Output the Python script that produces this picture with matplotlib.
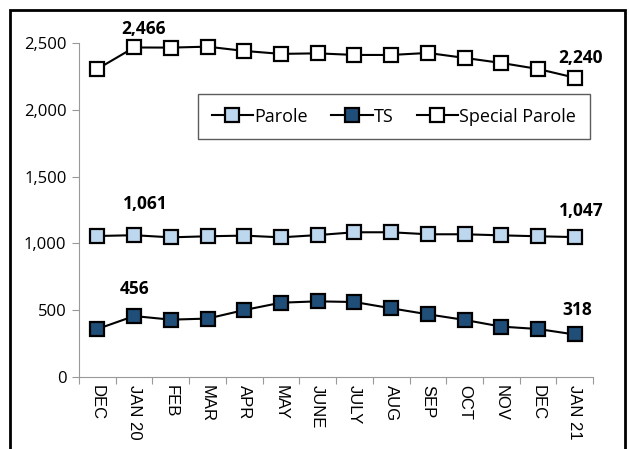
import matplotlib.pyplot as plt
from matplotlib.patches import Rectangle

# data
months = ["DEC", "JAN 20", "FEB", "MAR", "APR", "MAY", "JUNE", "JULY",
          "AUG", "SEP", "OCT", "NOV", "DEC", "JAN 21"]
parole = [1055, 1061, 1045, 1053, 1058, 1045, 1062, 1083, 1083, 1068, 1068, 1060, 1053, 1047]
ts = [359, 456, 429, 437, 501, 556, 566, 561, 514, 469, 427, 377, 359, 318]
special = [2305, 2466, 2465, 2472, 2440, 2418, 2422, 2410, 2410, 2425, 2388, 2350, 2305, 2240]

plt.rcParams['font.family'] = ['Open Sans', 'DejaVu Sans']

fig = plt.figure(figsize=(6.29, 4.49), dpi=100)
ax = fig.add_axes([0.1256, 0.1604, 0.8174, 0.7440])

x = list(range(len(months)))
style = dict(marker='s', markersize=9.5, markeredgecolor='black', markeredgewidth=1.6,
             color='black', linewidth=1.5, clip_on=False)
ax.plot(x, parole, markerfacecolor='#BDD7EE', label='Parole', **style)
ax.plot(x, ts, markerfacecolor='#1F4E79', label='TS', **style)
ax.plot(x, special, markerfacecolor='white', label='Special Parole', **style)

ax.set_xlim(-0.5, len(months) - 0.5)
ax.set_ylim(0, 2500)
ax.set_yticks([0, 500, 1000, 1500, 2000, 2500])
ax.yaxis.set_major_formatter(plt.FuncFormatter(lambda v, p: f"{int(v):,}"))
ax.set_xticks([i + 0.5 for i in range(-1, len(months))], minor=False)
ax.set_xticklabels([])
ax.set_xticks(x, minor=True)
ax.set_xticklabels(months, minor=True, rotation=270, fontsize=12,
                   family='Liberation Sans')
ax.tick_params(axis='x', which='minor', length=0, pad=6)
ax.tick_params(axis='x', which='major', length=5, color='#999999')
ax.tick_params(axis='y', length=5, color='#999999', labelsize=12, pad=4)

for side in ['top', 'right']:
    ax.spines[side].set_visible(False)
for side in ['left', 'bottom']:
    ax.spines[side].set_color('#999999')

# data labels
lab = dict(fontsize=12.5, fontweight='bold', ha='center', va='bottom')
ax.annotate(f"{special[1]:,}", (1, special[1]), xytext=(7, 7), textcoords='offset points', **lab)
ax.annotate(f"{special[-1]:,}", (13, special[-1]), xytext=(4, 8), textcoords='offset points', **lab)
ax.annotate(f"{parole[1]:,}", (1, parole[1]), xytext=(8, 16), textcoords='offset points', **lab)
ax.annotate(f"{parole[-1]:,}", (13, parole[-1]), xytext=(5, 12), textcoords='offset points', **lab)
ax.annotate(f"{ts[1]}", (1, ts[1]), xytext=(0, 13), textcoords='offset points', **lab)
ax.annotate(f"{ts[-1]}", (13, ts[-1]), xytext=(2, 11), textcoords='offset points', **lab)

leg = ax.legend(loc='upper left', bbox_to_anchor=(198 / 629, 1 - 94 / 449),
                bbox_transform=fig.transFigure, ncol=3, frameon=True, fancybox=False,
                fontsize=13, handlelength=2.3, handletextpad=0.05, columnspacing=1.3,
                borderpad=0.75, borderaxespad=0)
leg.get_frame().set_edgecolor('#333333')
leg.get_frame().set_linewidth(1.0)

# outer border, cut off at the bottom like the reference
fig.patches.append(Rectangle((10 / 629, -0.05), 615 / 629, 1.05 - 10 / 449,
                             transform=fig.transFigure, fill=False,
                             edgecolor='black', linewidth=2))

fig.savefig('out.png', dpi=100)
